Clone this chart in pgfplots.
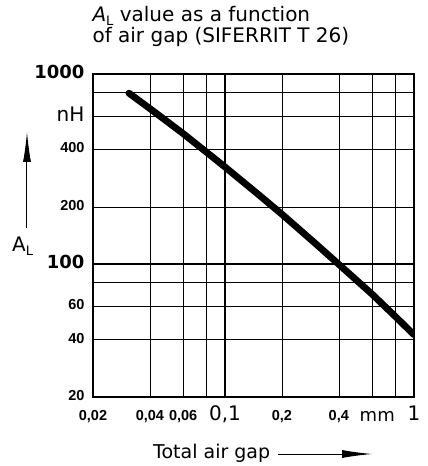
\documentclass[border=0pt]{standalone}
\usepackage{fontspec}
\setmainfont{DejaVu Sans}
\newfontfamily\narrowfont{Liberation Sans}
\usepackage{pgfplots}
\pgfplotsset{compat=1.18}
\usetikzlibrary{arrows.meta}

% label sizes
\newcommand\sm{\narrowfont\fontsize{14.5}{16}\selectfont\bfseries}
\newcommand\bg{\fontsize{20}{22}\selectfont}
\newcommand\bb{\fontsize{18}{20}\selectfont\bfseries}

\begin{document}
\begin{tikzpicture}
\useasboundingbox (-93pt,-69pt) rectangle (335pt,397pt);
\begin{axis}[
    at={(0pt,0pt)}, anchor=south west,
    width=321pt, height=323pt, scale only axis,
    xmode=log, ymode=log,
    xmin=0.02, xmax=1, ymin=20, ymax=1000,
    xtick={0.02,0.04,0.06,0.08,0.2,0.4,0.6,0.8,1},
    xticklabels={{\sm 0{,}02}, {\sm 0{,}04}, {\sm 0{,}06}, {}, {\sm 0{,}2}, {\sm 0{,}4}, {}, {}, {\bg 1}},
    ytick={20,40,60,80,200,400,600,800,1000},
    yticklabels={{\sm 20}, {\sm 40}, {\sm 60}, {}, {\sm 200}, {\sm 400}, {\bg nH}, {}, {\bb 1000}},
    extra x ticks={0.1}, extra x tick labels={\bg 0{,}1},
    extra y ticks={100}, extra y tick labels={\bb 100},
    extra x tick style={grid style={black, line width=1.6pt}},
    extra y tick style={grid style={black, line width=1.6pt}},
    minor xtick={}, minor ytick={},
    major tick length=0pt,
    grid=major,
    grid style={black, line width=0.6pt},
    axis line style={line width=1.3pt},
    xticklabel style={anchor=base, yshift=-24pt},
    typeset ticklabels with strut=false,
    yticklabel style={anchor=east, xshift=-5pt},
    /pgf/number format/assume math mode=true,
    clip=true,
]
\addplot[black, line width=6.8pt, line cap=round, line join=round] coordinates {
    (0.031,793) (0.04,658) (0.06,486) (0.08,387) (0.1,324) (0.15,232.5)
    (0.2,183) (0.3,128.6) (0.4,99.7) (0.6,69.5) (0.8,52.8) (1,42.5)
};
\end{axis}

% title
\node[anchor=base west, font=\fontsize{20}{22}\selectfont] at (-4pt,375pt)
    {{\itshape A}\raisebox{-0.3ex}{\fontsize{13}{13}\selectfont L} value as a function};
\node[anchor=base west, font=\fontsize{20}{22}\selectfont] at (-4pt,354pt)
    {of air gap (SIFERRIT T 26)};

% y label with arrow
\node[anchor=base west, inner sep=0pt, font=\fontsize{20}{22}\selectfont] at (-81pt,145pt)
    {A\raisebox{-0.3ex}{\fontsize{13}{13}\selectfont L}};
\draw[line width=1pt, -{Latex[length=30pt,width=8pt]}] (-66pt,169pt) -- (-66pt,265pt);

% "mm" unit next to 1
\node[anchor=base east, inner sep=0pt, font=\fontsize{18}{20}\selectfont] at (302pt,-24pt) {mm};

% x label with arrow
\node[anchor=base west, inner sep=0pt, font=\fontsize{19}{22}\selectfont] at (60pt,-61pt) {Total air gap};
\draw[line width=1pt, -{Latex[length=30pt,width=8pt]}] (185pt,-57pt) -- (279pt,-57pt);
\end{tikzpicture}
\end{document}
